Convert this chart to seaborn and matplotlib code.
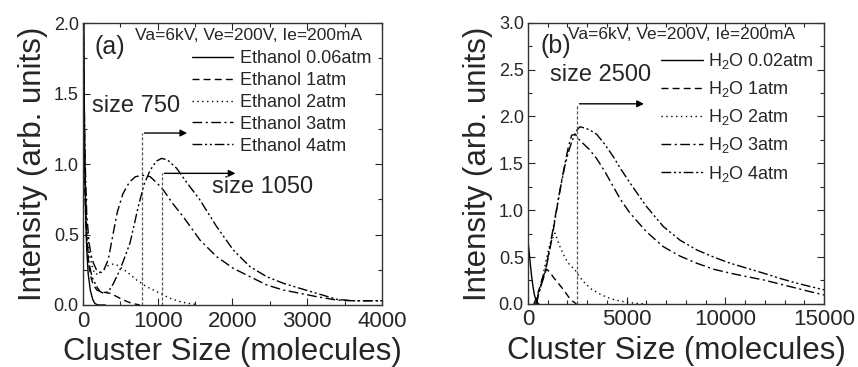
import matplotlib
matplotlib.use("Agg")
import matplotlib.pyplot as plt
import seaborn as sns
from matplotlib.ticker import MultipleLocator, FormatStrFormatter

sns.set_style("ticks")
plt.rcParams['font.family'] = ['Liberation Sans', 'DejaVu Sans']
plt.rcParams['mathtext.fontset'] = 'custom'
plt.rcParams['mathtext.rm'] = 'Liberation Sans'

# ---- panel (a): ethanol ----
eth_labels = ['Ethanol 0.06atm', 'Ethanol 1atm', 'Ethanol 2atm', 'Ethanol 3atm', 'Ethanol 4atm']
eth_x = [
    [0, 8, 15, 25, 35, 50, 70, 100, 130, 160, 200, 300],
    [0, 10, 25, 50, 80, 110, 140, 187, 230, 280, 361, 450, 540, 620, 696, 760],
    [0, 10, 25, 50, 90, 130, 160, 220, 280, 339, 400, 450, 495, 600, 718, 850, 1030, 1150, 1298, 1400, 1500],
    [0, 10, 25, 50, 80, 110, 138, 180, 227, 280, 338, 405, 460, 535, 620, 700, 800, 900, 1000, 1075, 1200,
     1342, 1565, 1788, 2011, 2234, 2457, 2680, 2903, 3126, 3394, 3600, 4000],
    [0, 10, 25, 50, 80, 120, 183, 230, 272, 339, 405, 495, 560, 629, 690, 740, 820, 900, 980, 1052, 1130, 1253,
     1387, 1565, 1788, 2011, 2234, 2457, 2680, 2903, 3126, 3394, 3600, 4000],
]
eth_y = [
    [3.0, 2.4, 1.6, 1.0, 0.65, 0.40, 0.22, 0.10, 0.04, 0.01, 0.0, 0.0],
    [2.5, 1.6, 0.8, 0.45, 0.28, 0.19, 0.14, 0.106, 0.095, 0.09, 0.083, 0.06, 0.035, 0.018, 0.007, 0.0],
    [2.5, 1.7, 1.0, 0.55, 0.35, 0.26, 0.22, 0.22, 0.25, 0.28, 0.29, 0.285, 0.27, 0.23, 0.177, 0.13, 0.083,
     0.05, 0.024, 0.012, 0.005],
    [2.5, 1.8, 1.1, 0.65, 0.45, 0.35, 0.30, 0.25, 0.23, 0.25, 0.32, 0.51, 0.66, 0.79, 0.87, 0.91, 0.92, 0.91,
     0.86, 0.816, 0.72, 0.626, 0.461, 0.343, 0.260, 0.201, 0.142, 0.106, 0.083, 0.059, 0.035, 0.03, 0.03],
    [2.5, 1.6, 0.9, 0.5, 0.3, 0.2, 0.13, 0.095, 0.083, 0.094, 0.15, 0.25, 0.34, 0.44, 0.58, 0.70, 0.86, 0.957,
     1.02, 1.04, 1.03, 0.97, 0.87, 0.745, 0.556, 0.39, 0.272, 0.201, 0.154, 0.118, 0.083, 0.04, 0.03, 0.03],
]

# ---- panel (b): water ----
h2o_labels = ['H$_2$O 0.02atm', 'H$_2$O 1atm', 'H$_2$O 2atm', 'H$_2$O 3atm', 'H$_2$O 4atm']
h2o_x = [
    [0, 60, 120, 180, 250, 320, 400, 480, 550],
    [300, 450, 600, 750, 946, 1100, 1300, 1537, 1800, 2043, 2250, 2450],
    [350, 500, 700, 900, 1100, 1368, 1600, 1875, 2100, 2382, 2600, 2889, 3200, 3563, 4000, 4409, 4900, 5422, 5900],
    [450, 523, 700, 861, 1030, 1199, 1370, 1537, 1700, 1875, 2050, 2213, 2400, 2551, 2800, 3100, 3480, 3900,
     4324, 4700, 5169, 6000, 6858, 7700, 8549, 9400, 10237, 11100, 11925, 12800, 13616, 14300, 15000],
    [400, 600, 861, 1030, 1199, 1370, 1537, 1700, 1875, 2050, 2200, 2350, 2500, 2635, 2800, 3100, 3480, 3900,
     4324, 4700, 5169, 6000, 6858, 7700, 8549, 9400, 10237, 11100, 11925, 12800, 13616, 14300, 15000],
]
h2o_y = [
    [0.67, 0.55, 0.42, 0.30, 0.19, 0.10, 0.04, 0.01, 0.0],
    [0.0, 0.08, 0.18, 0.29, 0.37, 0.34, 0.28, 0.22, 0.15, 0.078, 0.03, 0.0],
    [0.0, 0.08, 0.25, 0.45, 0.63, 0.755, 0.62, 0.49, 0.42, 0.363, 0.29, 0.22, 0.16, 0.114, 0.07, 0.043, 0.02,
     0.007, 0.0],
    [0.0, 0.114, 0.22, 0.327, 0.5, 0.683, 0.9, 1.11, 1.31, 1.50, 1.68, 1.80, 1.81, 1.76, 1.71, 1.65, 1.55, 1.41,
     1.25, 1.11, 0.968, 0.77, 0.61, 0.51, 0.434, 0.37, 0.328, 0.29, 0.256, 0.21, 0.167, 0.13, 0.095],
    [0.0, 0.15, 0.35, 0.52, 0.72, 0.92, 1.12, 1.30, 1.48, 1.62, 1.72, 1.80, 1.86, 1.89, 1.88, 1.86, 1.81, 1.70,
     1.57, 1.44, 1.29, 1.04, 0.825, 0.68, 0.576, 0.50, 0.434, 0.38, 0.328, 0.27, 0.221, 0.185, 0.15],
]

styles = ['-', (0, (5, 3)), (0, (1, 2.5)), (0, (7, 2.5, 1.5, 2.5)), (0, (7, 2, 1.5, 2, 1.5, 2))]

# marker lines: (peak x, top y, arrow end x)
a_marks = [(785, 1.22, 1431), (1052, 0.934, 2077)]
b_marks = [(2466, 2.135, 6014)]

fig = plt.figure(figsize=(8.58, 3.67), dpi=100)
ax1 = fig.add_axes([0.0967, 0.169, 0.3485, 0.768])
ax2 = fig.add_axes([0.6154, 0.172, 0.345, 0.766])


def draw_panel(ax, xs, ys, labels, marks, xmax, ymax, xmaj, xmin_, ymaj):
    for x, y, lab, ls in zip(xs, ys, labels, styles):
        sns.lineplot(x=x, y=y, ax=ax, color='black', lw=1.0, linestyle=ls, label=lab, sort=False)
    for px, top, end in marks:
        ax.plot([px, px], [0, top], color='#555555', lw=0.9, linestyle=(0, (2.5, 1.5)))
        ax.annotate('', xy=(end, top), xytext=(px, top),
                    arrowprops=dict(arrowstyle='-|>', color='black', lw=1.0, mutation_scale=10))
    ax.set_xlim(0, xmax)
    ax.set_ylim(0, ymax)
    ax.xaxis.set_major_locator(MultipleLocator(xmaj))
    ax.xaxis.set_minor_locator(MultipleLocator(xmin_))
    ax.yaxis.set_major_locator(MultipleLocator(ymaj))
    ax.yaxis.set_minor_locator(MultipleLocator(0.25))
    ax.yaxis.set_major_formatter(FormatStrFormatter('%.1f'))
    ax.tick_params(which='both', direction='in', top=True, right=True, width=0.8)
    ax.tick_params(which='major', length=5)
    ax.tick_params(which='minor', length=3)
    ax.tick_params(axis='x', labelsize=16, pad=4)
    ax.tick_params(axis='y', labelsize=13, pad=3)
    for s in ax.spines.values():
        s.set_linewidth(1.0)
        s.set_color('#333333')
    ax.set_xlabel('Cluster Size (molecules)', fontsize=22.5, labelpad=4)
    ax.set_ylabel('Intensity (arb. units)', fontsize=22.5, labelpad=4)


draw_panel(ax1, eth_x, eth_y, eth_labels, a_marks, 4000, 2.0, 1000, 500, 0.5)
draw_panel(ax2, h2o_x, h2o_y, h2o_labels, b_marks, 15000, 3.0, 5000, 1000, 0.5)

leg1 = ax1.legend(loc='upper right', bbox_to_anchor=(0.99, 0.93), frameon=False, fontsize=13,
                  handlelength=2.3, handletextpad=0.4, labelspacing=0.27, borderaxespad=0)
leg2 = ax2.legend(loc='upper right', bbox_to_anchor=(0.99, 0.925), frameon=False, fontsize=13,
                  handlelength=2.3, handletextpad=0.3, labelspacing=0.45, borderaxespad=0)

ax1.text(160, 1.83, '(a)', fontsize=18, va='center', ha='left')
ax1.text(696, 1.91, 'Va=6kV, Ve=200V, Ie=200mA', fontsize=12.5, va='center', ha='left')
ax1.text(120, 1.41, 'size 750', fontsize=17, va='center', ha='left')
ax1.text(1722, 0.84, 'size 1050', fontsize=17, va='center', ha='left')

ax2.text(608, 2.75, '(b)', fontsize=18, va='center', ha='left')
ax2.text(2044, 2.87, 'Va=6kV, Ve=200V, Ie=200mA', fontsize=12.5, va='center', ha='left')
ax2.text(1115, 2.445, 'size 2500', fontsize=17, va='center', ha='left')

fig.savefig('out.png', dpi=100)
